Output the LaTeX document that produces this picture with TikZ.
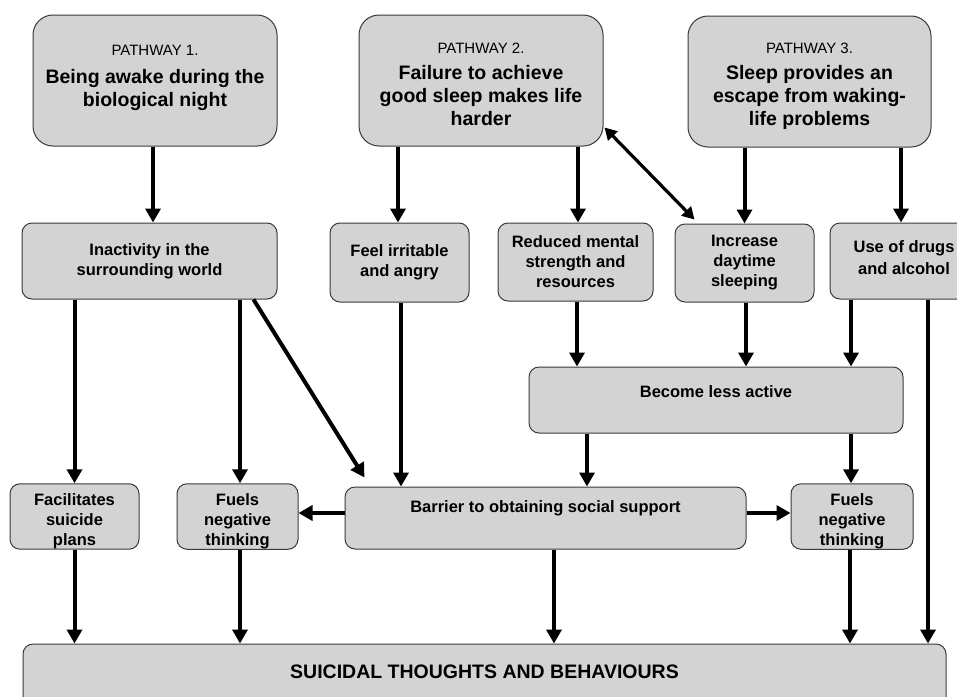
\documentclass[tikz,border=0pt]{standalone}
\usepackage{fontspec}
\setmainfont{Liberation Sans}
\usetikzlibrary{arrows.meta}
\definecolor{boxfill}{HTML}{D3D3D3}
\definecolor{boxline}{HTML}{3A3A3A}
\newcommand{\upstrut}[1]{\rule{0pt}{#1}}
\newcommand{\downstrut}[1]{\rule[-#1]{0pt}{#1}}
\begin{document}
\begin{tikzpicture}[x=1pt,y=-1pt,
  box/.style={draw=boxline, fill=boxfill, line width=1pt, rounded corners=10pt, inner sep=0pt, align=center, font=\fontsize{16.5}{20}\selectfont\bfseries},
  pbox/.style={box, rounded corners=20pt, font=\fontsize{19.5}{23}\selectfont\bfseries},
  arr/.style={line width=4pt, -{Triangle[width=15pt,length=14pt]}},
  darr/.style={line width=3.2pt, {Triangle[width=13pt,length=12pt]}-{Triangle[width=13pt,length=12pt]}},
]
\useasboundingbox (0,0) rectangle (957,696);
\clip (0,0) rectangle (957,696);
\fill[white] (0,0) rectangle (957,696);

% pathway boxes
\node[pbox, minimum width=244pt, minimum height=131pt] (p1) at (155,80.5)
  {{\fontsize{15}{18}\selectfont\mdseries PATHWAY 1.}\\[5pt]Being awake during the\\biological night\downstrut{10pt}};
\node[pbox, minimum width=244pt, minimum height=131pt] (p2) at (481,80.5)
  {{\fontsize{15}{18}\selectfont\mdseries\upstrut{19pt}PATHWAY 2.}\\[3pt]Failure to achieve\\good sleep makes life\\harder};
\node[pbox, minimum width=243pt, minimum height=131pt] (p3) at (809.5,81.5)
  {{\fontsize{15}{18}\selectfont\mdseries\upstrut{21pt}PATHWAY 3.}\\[3pt]Sleep provides an\\escape from waking-\\life problems};

% second row
\node[box, minimum width=255pt, minimum height=76pt] (inact) at (149.5,261) {Inactivity in the\\surrounding world};
\node[box, minimum width=139pt, minimum height=79pt] (irr) at (399.5,262.5) {Feel irritable\\and angry};
\node[box, minimum width=155pt, minimum height=78pt] (red) at (575.5,262) {Reduced mental\\strength and\\resources};
\node[box, minimum width=139pt, minimum height=78pt] (inc) at (744.5,263) {Increase\\daytime\\sleeping};
\node[box, minimum width=148pt, minimum height=76pt, font=\fontsize{16.5}{22}\selectfont\bfseries] (drugs) at (904,261) {Use of drugs\\and alcohol\downstrut{7pt}};

% middle
\node[box, minimum width=374pt, minimum height=66pt, text depth=16pt] (bla) at (716,400) {Become less active};

% third row
\node[box, minimum width=129pt, minimum height=65pt] (fac) at (74.5,516.5) {\upstrut{22pt}Facilitates\\suicide\\plans};
\node[box, minimum width=121pt, minimum height=65pt] (fuelL) at (237.5,516.5) {\upstrut{22pt}Fuels\\negative\\thinking};
\node[box, minimum width=401pt, minimum height=62pt, text depth=22pt] (barrier) at (545.5,518) {Barrier to obtaining social support};
\node[box, minimum width=122pt, minimum height=65pt] (fuelR) at (852,516.5) {\upstrut{22pt}Fuels\\negative\\thinking};

% bottom
\node[box, minimum width=923pt, minimum height=72pt, text depth=16pt, font=\fontsize{19.5}{22}\selectfont\bfseries] (suic) at (484.5,680) {SUICIDAL THOUGHTS AND BEHAVIOURS};

% arrows from pathways
\draw[arr] ([xshift=-2pt]p1.south) -- ([xshift=-2pt]p1.south |- inact.north);
\draw[arr] ([xshift=-1.5pt]irr.north |- p2.south) -- ([xshift=-1.5pt]irr.north);
\draw[arr] ([xshift=2.5pt]red.north |- p2.south) -- ([xshift=2.5pt]red.north);
\draw[arr] (inc.north |- p3.south) -- (inc.north);
\draw[arr] ([xshift=-3pt]drugs.north |- p3.south) -- ([xshift=-3pt]drugs.north);
\draw[darr] ([xshift=1pt,yshift=19pt]p2.south east) -- ([xshift=20pt,yshift=4pt]inc.north west);

% from inactivity
\draw[arr] (fac.north |- inact.south) -- (fac.north);
\draw[arr] ([xshift=2.5pt]fuelL.north |- inact.south) -- ([xshift=2.5pt]fuelL.north);
\draw[arr] ([xshift=-24pt]inact.south east) -- ([xshift=20pt,yshift=9pt]barrier.north west);

% into barrier / less active
\draw[arr] ([xshift=1.5pt]irr.south) -- ([xshift=1.5pt]irr.south |- barrier.north);
\draw[arr] ([xshift=1.5pt]red.south) -- ([xshift=1.5pt]red.south |- bla.north);
\draw[arr] ([xshift=1.5pt]inc.south) -- ([xshift=1.5pt]inc.south |- bla.north);
\draw[arr] ([xshift=-53pt]drugs.south) -- ([xshift=-53pt]drugs.south |- bla.north);
\draw[arr] ([xshift=24pt]drugs.south) -- ([xshift=24pt]drugs.south |- suic.north);
\draw[arr] ([xshift=-129pt]bla.south) -- ([xshift=-129pt]bla.south |- barrier.north);
\draw[arr] ([xshift=-1pt]fuelR.north |- bla.south) -- ([xshift=-1pt]fuelR.north);

% barrier sideways
\draw[arr] ([yshift=5pt]barrier.west) -- ([yshift=5pt]barrier.west -| fuelL.east);
\draw[arr] ([yshift=5pt]barrier.east) -- ([yshift=5pt]barrier.east -| fuelR.west);

% to bottom
\draw[arr] (fac.south) -- (fac.south |- suic.north);
\draw[arr] ([xshift=2.5pt]fuelL.south) -- ([xshift=2.5pt]fuelL.south |- suic.north);
\draw[arr] ([xshift=8.5pt]barrier.south) -- ([xshift=8.5pt]barrier.south |- suic.north);
\draw[arr] ([xshift=-2pt]fuelR.south) -- ([xshift=-2pt]fuelR.south |- suic.north);
\end{tikzpicture}
\end{document}
